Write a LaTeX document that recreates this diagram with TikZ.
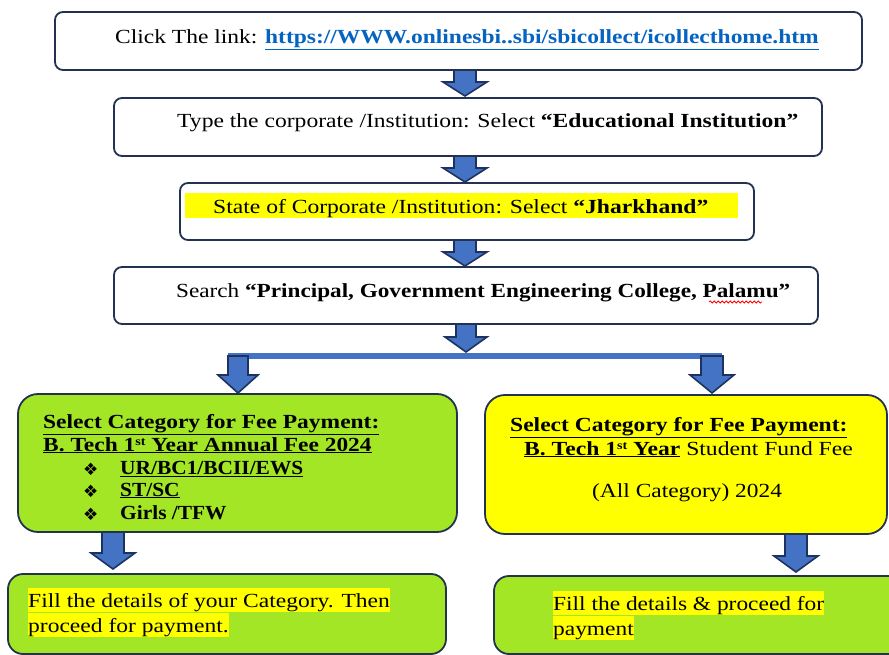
\documentclass[tikz,border=0pt]{standalone}
\usepackage{fontspec}
\setmainfont{Liberation Serif}
\newfontfamily\symfont{DejaVu Sans}
\usetikzlibrary{decorations.pathmorphing}
\definecolor{navy}{RGB}{35,50,80}
\definecolor{ablue}{RGB}{68,114,196}
\definecolor{aedge}{RGB}{30,50,95}
\definecolor{lgreen}{RGB}{162,230,37}
\definecolor{hyellow}{RGB}{255,255,0}
\definecolor{linkblue}{RGB}{5,99,193}
\newcommand{\blockarrow}[6]{%
  \draw[barrow] ({#1-#5},#2) -- ({#1+#5},#2) -- ({#1+#5},#3) -- ({#1+#6},#3) -- (#1,#4) -- ({#1-#6},#3) -- ({#1-#5},#3) -- cycle;}
\newcommand{\xs}[2]{\scalebox{#1}[1]{#2}}
\newcommand{\hl}[1]{{\setlength{\fboxsep}{0pt}\colorbox{hyellow}{\rule[-5pt]{0pt}{24pt}#1}}}
\newcommand{\bul}{{\symfont\mdseries\fontsize{17}{17}\selectfont ❖}}
\newcommand{\sst}{\raisebox{6pt}{\fontsize{12}{12}\selectfont st}}
\begin{document}
\begin{tikzpicture}[x=1pt,y=-1pt,
  topbox/.style={draw=navy, line width=1.8pt, rounded corners=8pt, fill=white, inner sep=0pt},
  bigbox/.style={draw=navy, line width=1.8pt, rounded corners=20pt, inner sep=0pt},
  lowbox/.style={draw=navy, line width=1.8pt, rounded corners=15pt, fill=lgreen, inner sep=0pt},
  barrow/.style={draw=aedge, line width=1.6pt, fill=ablue, line join=miter},
  txt/.style={anchor=base west, inner sep=0pt, font=\fontsize{20}{24}\selectfont},
  midtxt/.style={anchor=base west, inner sep=0pt, font=\fontsize{20}{24}\selectfont\bfseries},
  lowtxt/.style={anchor=base west, inner sep=0pt, font=\fontsize{20}{24}\selectfont}]
\useasboundingbox (0,0) rectangle (889,655);
\fill[white] (0,0) rectangle (889,655);
% block arrows (drawn first, boxes cover their ends)
\blockarrow{465}{66}{82}{96}{11}{22}
\blockarrow{465}{152}{168}{182}{11}{22}
\blockarrow{465}{236}{252}{266}{11}{22}
\blockarrow{466}{320}{337}{352}{10}{21}
\fill[ablue] (228,353) rectangle (722,359);
\blockarrow{238}{356}{375}{393}{10}{20}
\blockarrow{712}{356}{375}{393}{11}{22}
\blockarrow{113}{528}{553}{569}{11}{22}
\blockarrow{796}{530}{556}{572}{11}{22}
% boxes
\node[topbox, minimum width=807pt, minimum height=58pt] (b1) at (458.5,41) {};
\node[topbox, minimum width=708pt, minimum height=58pt] (b2) at (468,127) {};
\node[topbox, minimum width=574pt, minimum height=57pt] (b3) at (467,211.5) {};
\node[topbox, minimum width=704pt, minimum height=57pt] (b4) at (466,295.5) {};
\node[bigbox, fill=lgreen, minimum width=439pt, minimum height=138pt] (g1) at (237.5,463) {};
\node[bigbox, fill=hyellow, minimum width=402pt, minimum height=139pt] (y1) at (686,464.5) {};
\node[lowbox, minimum width=438pt, minimum height=80pt] (f1) at (227,614) {};
\node[lowbox, minimum width=420pt, minimum height=78pt] (f2) at (704,615) {};
\fill[hyellow] (185,193) rectangle (738,218);
% texts
\node[txt] (t1) at (115,44) {\xs{1.174}{Click The link: \textcolor{linkblue}{\textbf{\underline{https://WWW.onlinesbi..sbi/sbicollect/icollecthome.htm}}}}};
\node[txt] (t2) at (177,128) {\xs{1.179}{Type the corporate /Institution: Select \textbf{“Educational Institution”}}};
\node[txt] (t3) at (213,214) {\xs{1.179}{State of Corporate /Institution: Select \textbf{“Jharkhand”}}};
\node[txt] (t4) at (176,298) {\xs{1.16}{Search \textbf{“Principal, Government Engineering College, Palamu”}}};
\draw[red, line width=0.8pt, decorate, decoration={snake, amplitude=1pt, segment length=4pt}] (709,302) -- (762,302);
\node[midtxt] (g1a) at (43,428) {\xs{1.173}{\underline{Select Category for Fee Payment:}}};
\node[midtxt] (g1b) at (43,451) {\xs{1.17}{\underline{B. Tech 1\sst{} Year Annual Fee 2024}}};
\node[midtxt] (g1c) at (83,475) {\bul};
\node[midtxt] (g1d) at (83,497) {\bul};
\node[midtxt] (g1e) at (83,520) {\bul};
\node[midtxt] (g1f) at (120,474) {\xs{1.07}{\underline{UR/BC1/BCII/EWS}}};
\node[midtxt] (g1g) at (120,496) {\xs{1.07}{\underline{ST/SC}}};
\node[midtxt] (g1h) at (120,519) {\xs{1.07}{Girls /TFW}};
\node[midtxt] (y1a) at (510,431) {\xs{1.177}{\underline{Select Category for Fee Payment:}}};
\node[midtxt] (y1b) at (524,455) {\xs{1.18}{\underline{B. Tech 1\sst{} Year}\mdseries{} Student Fund Fee}};
\node[txt] (y1c) at (592,497) {\xs{1.17}{(All Category) 2024}};
\node[lowtxt] (f1a) at (28,607) {\xs{1.176}{\hl{Fill the details of your Category. Then}}};
\node[lowtxt] (f1b) at (28,632) {\xs{1.176}{\hl{proceed for payment.}}};
\node[lowtxt] (f2a) at (553,610) {\xs{1.17}{\hl{Fill the details \& proceed for}}};
\node[lowtxt] (f2b) at (553,635) {\xs{1.17}{\hl{payment}}};
\end{tikzpicture}
\end{document}
